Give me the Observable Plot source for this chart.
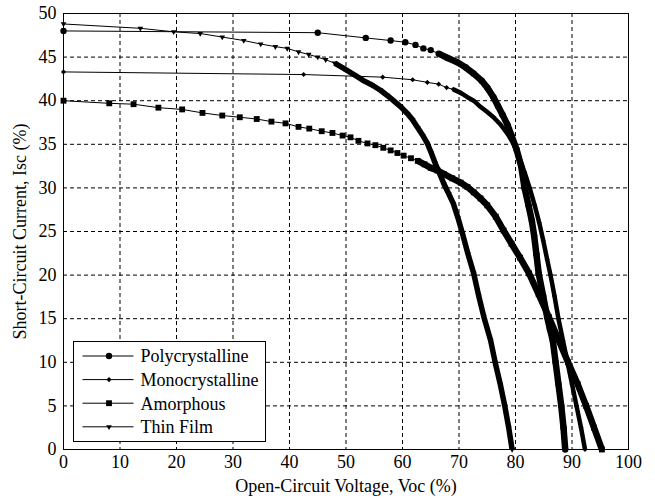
<!DOCTYPE html>
<html>
<head>
<meta charset="utf-8">
<script src="https://cdn.jsdelivr.net/npm/d3@7"></script>
<script src="https://cdn.jsdelivr.net/npm/@observablehq/plot@0.6"></script>
<style>
  html, body { margin: 0; padding: 0; background: #fff; }
  #wrap { position: relative; width: 655px; height: 498px; font-family: "Liberation Serif", "Times New Roman", serif; }
  #legend { position: absolute; left: 0; top: 0; overflow: visible; }
</style>
</head>
<body>
<div id="wrap"></div>
<script>
// ---- data ----
const seriesNames = ["Polycrystalline", "Monocrystalline", "Amorphous", "Thin Film"];

const polyVoc = [0, 45, 53.5, 57.9, 60.5, 62.3, 63.7, 65, 66.4, 68, 69.7, 71.2, 72.6, 74, 75, 76.1, 76.9, 77.7, 78.6, 79.3, 80.2, 81, 81.6, 82.3, 82.9, 83.3, 83.7, 84.1, 84.9, 85.6, 86.1, 86.6, 87.1, 87.6, 88.1, 88.5, 88.8];
const polyIsc = [48, 47.8, 47.2, 46.9, 46.7, 46.4, 46.0, 45.8, 45.4, 44.9, 44.4, 43.8, 43.1, 42.3, 41.5, 40.4, 39.4, 38.4, 37.2, 36.0, 34.4, 32.5, 30.0, 28.0, 26.2, 24.5, 22.4, 20.2, 17.6, 15.2, 13.8, 12.5, 10.0, 7.5, 5.0, 2.5, 0];

const monoVoc = [0, 42.5, 56.5, 61.8, 64.4, 66.4, 67.8, 69, 70.3, 71.5, 72.6, 73.8, 75, 76.1, 77.3, 78.6, 79.6, 80.6, 81.6, 82.5, 83.4, 84.2, 84.9, 85.6, 86.2, 86.9, 87.6, 88.4, 89.2, 90.0, 90.8, 91.6, 92.3];
const monoIsc = [43.3, 43.0, 42.7, 42.4, 42.1, 41.9, 41.5, 41.3, 40.9, 40.4, 40.0, 39.3, 38.7, 38.1, 37.3, 36.2, 35.1, 33.6, 31.8, 30.0, 28.0, 26.0, 24.0, 21.8, 20.0, 17.6, 15.0, 12.5, 10.0, 7.5, 5.0, 2.5, 0];

const amorVoc = [0, 8.1, 12.4, 16.8, 21, 24.6, 28.1, 31.2, 34.2, 36.8, 39.3, 41.6, 43.5, 45.7, 47.6, 49.4, 50.8, 52.2, 53.8, 55.2, 56.6, 57.9, 59.1, 60.2, 61.5, 62.7, 63.9, 65, 66.2, 67.3, 68.8, 70.3, 71.5, 72.6, 73.8, 75, 76.5, 77.9, 79.3, 80.8, 82.4, 84.1, 85.9, 87.6, 89.3, 91.0, 92.5, 93.9, 95.3];
const amorIsc = [40, 39.7, 39.6, 39.2, 39.0, 38.6, 38.3, 38.1, 37.9, 37.6, 37.4, 37.0, 36.8, 36.5, 36.3, 36.0, 35.8, 35.4, 35.1, 34.9, 34.6, 34.3, 34.0, 33.7, 33.4, 33.1, 32.7, 32.3, 32.0, 31.6, 31.1, 30.6, 30.1, 29.5, 28.8, 28.0, 26.7, 25.1, 23.6, 22.0, 20.2, 17.8, 15.2, 12.6, 10.0, 7.5, 5.0, 2.5, 0];

const thinVoc = [0, 13.6, 19.5, 24.2, 28.1, 31.9, 34.9, 37.5, 39.6, 41.6, 43.4, 45, 46.4, 48, 49.6, 51.4, 53.1, 54.6, 56.1, 57.3, 58.4, 59.7, 60.9, 61.8, 62.7, 63.6, 64.4, 65.1, 65.8, 66.6, 67.3, 68.2, 69, 69.8, 70.6, 71.6, 72.6, 73.5, 74.4, 75.6, 76.4, 77.3, 78.1, 78.8, 79.4];
const thinIsc = [48.8, 48.3, 47.9, 47.7, 47.3, 46.9, 46.5, 46.2, 46.0, 45.6, 45.3, 45.0, 44.7, 44.3, 43.7, 43.0, 42.3, 41.8, 41.2, 40.6, 40.0, 39.3, 38.5, 37.8, 36.9, 36.0, 35.1, 34.0, 32.8, 31.6, 30.5, 29.3, 28.2, 26.6, 24.8, 22.4, 20.2, 17.6, 15.2, 12.5, 10.0, 7.5, 5.0, 2.5, 0];

const xTicks = [0, 10, 20, 30, 40, 50, 60, 70, 80, 90, 100];
const yTicks = [0, 5, 10, 15, 20, 25, 30, 35, 40, 45, 50];
const xLabel = "Open-Circuit Voltage, Voc (%)";
const yLabel = "Short-Circuit Current, Isc (%)";

// ---- styling ----
const sqrt3 = Math.sqrt(3);
const triangleDown = {
  draw(context, size) {
    const y = Math.sqrt(size / (sqrt3 * 3));
    context.moveTo(0, y * 2);
    context.lineTo(sqrt3 * y, -y);
    context.lineTo(-sqrt3 * y, -y);
    context.closePath();
  }
};

const series = [
  {name: seriesNames[0], voc: polyVoc, isc: polyIsc, symbol: "circle", d3symbol: d3.symbolCircle, r: 3.2, band: 6.5},
  {name: seriesNames[1], voc: monoVoc, isc: monoIsc, symbol: "diamond2", d3symbol: d3.symbolDiamond2, r: 2.3, band: 4.5},
  {name: seriesNames[2], voc: amorVoc, isc: amorIsc, symbol: "square", d3symbol: d3.symbolSquare, r: 3.3, band: 6.5},
  {name: seriesNames[3], voc: thinVoc, isc: thinIsc, symbol: triangleDown, d3symbol: triangleDown, r: 2.1, band: 5.5}
];

// where the sampled markers pile up into a solid band (steep part of the curve)
const steep = 0.3;
for (const s of series) {
  const n = s.voc.length;
  const segSteep = d3.range(n - 1).map(i => Math.abs((s.isc[i + 1] - s.isc[i]) / (s.voc[i + 1] - s.voc[i])) >= steep);
  s.rows = s.voc.map((v, i) => ({
    series: s.name, voc: v, isc: s.isc[i],
    band: (i > 0 && segSteep[i - 1]) || (i < n - 1 && segSteep[i])
  }));
}

const gridStyle = {stroke: "#000", strokeOpacity: 1, strokeWidth: 1, strokeDasharray: "4,3"};

const chart = Plot.plot({
  width: 655,
  height: 498,
  marginLeft: 63,
  marginRight: 27,
  marginTop: 13,
  marginBottom: 49,
  x: {domain: [0, 100], axis: null},
  y: {domain: [0, 50], axis: null},
  style: {fontFamily: "'Liberation Serif', 'Times New Roman', serif", fontSize: "18px", color: "#000", background: "#fff"},
  marks: [
    Plot.gridX(xTicks.slice(1, -1), gridStyle),
    Plot.gridY(yTicks.slice(1, -1), gridStyle),
    ...series.flatMap(s => [
      Plot.line(s.rows, {x: "voc", y: "isc", stroke: "#000", strokeWidth: 1}),
      Plot.line(s.rows, {x: "voc", y: d => d.band ? d.isc : NaN, stroke: "#000", strokeWidth: s.band, strokeLinecap: "butt", strokeLinejoin: "round"}),
      Plot.dot(s.rows, {x: "voc", y: "isc", symbol: s.symbol, r: s.r, fill: "#000", stroke: "none"})
    ]),
    Plot.frame({stroke: "#000", strokeWidth: 1}),
    Plot.axisX(xTicks, {tickSize: 0, tickPadding: 6, fontSize: 18, label: xLabel, labelAnchor: "center", labelOffset: 42, labelArrow: false}),
    Plot.axisY(yTicks, {tickSize: 0, tickPadding: 7, fontSize: 18, label: yLabel, labelAnchor: "center", labelOffset: 50, labelArrow: false})
  ]
});

const wrap = document.getElementById("wrap");
wrap.appendChild(chart);

// ---- legend (inside the plot area, lower left) ----
const lg = d3.select(wrap).append("svg")
  .attr("id", "legend")
  .attr("width", 655).attr("height", 498);
const box = {x: 73.5, y: 341.5, w: 192, h: 100};
lg.append("rect").attr("x", box.x).attr("y", box.y).attr("width", box.w).attr("height", box.h)
  .attr("fill", "#fff").attr("stroke", "#000").attr("stroke-width", 1);
series.forEach((s, i) => {
  const cy = box.y + 14.5 + i * 23.6;
  const g = lg.append("g");
  g.append("line").attr("x1", box.x + 9).attr("x2", box.x + 60).attr("y1", cy).attr("y2", cy)
    .attr("stroke", "#000").attr("stroke-width", 1);
  g.append("path").attr("transform", `translate(${box.x + 35.5},${cy})`)
    .attr("d", d3.symbol(s.d3symbol, Math.PI * s.r * s.r)()).attr("fill", "#000");
  g.append("text").attr("x", box.x + 67).attr("y", cy).attr("dy", "0.35em")
    .attr("font-family", "'Liberation Serif', 'Times New Roman', serif").attr("font-size", 18)
    .attr("fill", "#000").text(s.name);
});
</script>
</body>
</html>
